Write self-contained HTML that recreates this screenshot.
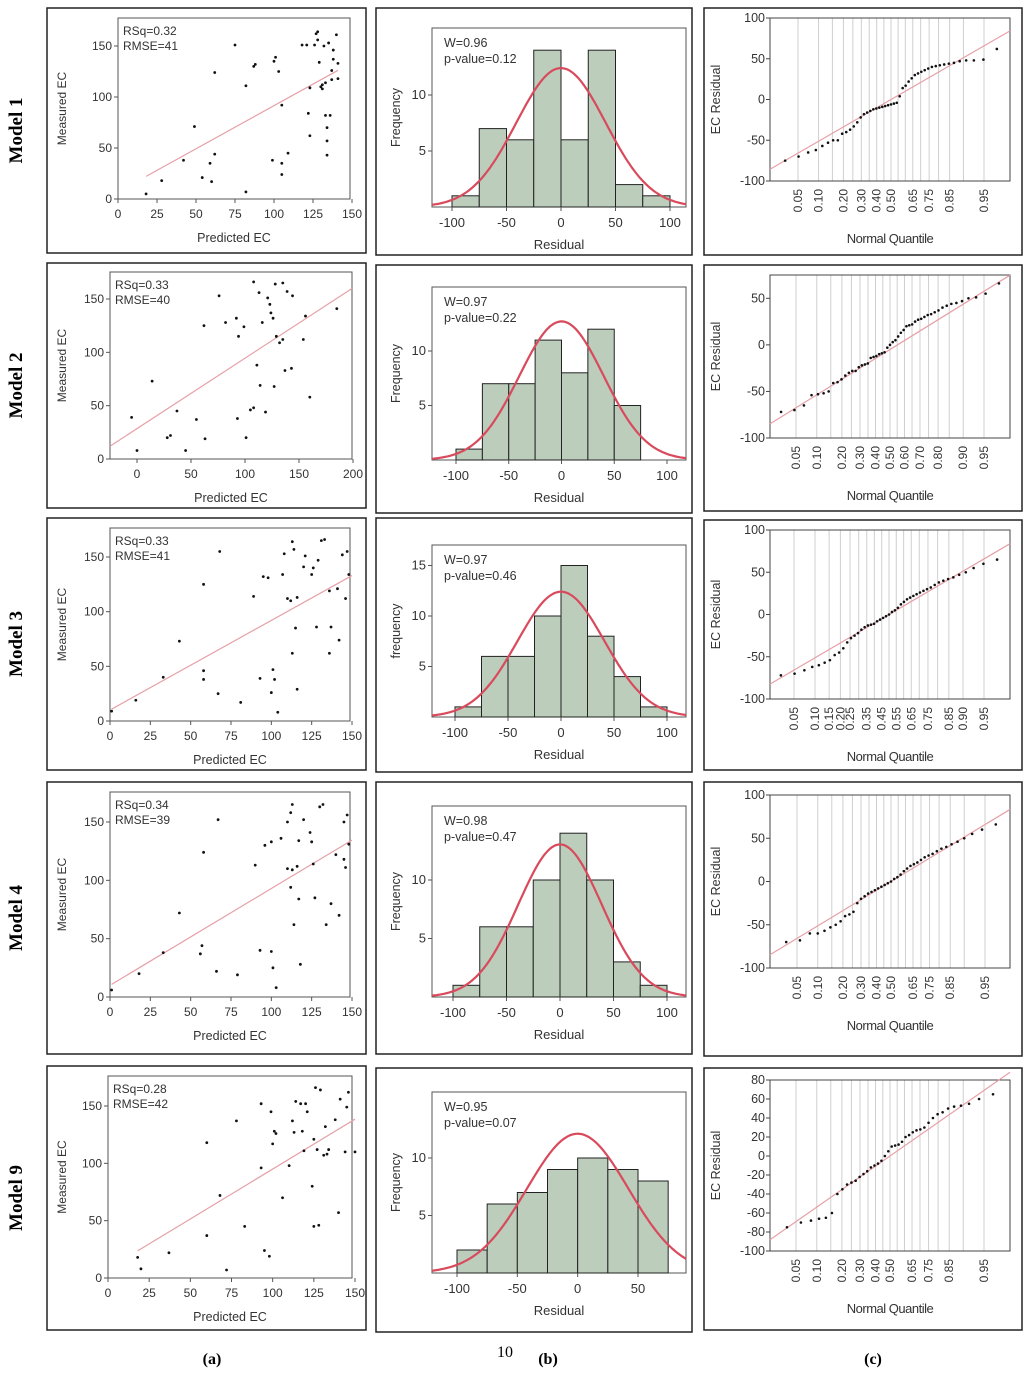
<!DOCTYPE html>
<html><head><meta charset="utf-8"><style>
html,body{margin:0;padding:0;background:#fff;}
</style></head><body>
<svg id="fig" width="1024" height="1371" viewBox="0 0 1024 1371" xmlns="http://www.w3.org/2000/svg"></svg>
<script>
// ---------- DATA ----------
const modelNames = ["Model 1","Model 2","Model 3","Model 4","Model 9"];
const statsA = [["RSq=0.32","RMSE=41"],["RSq=0.33","RMSE=40"],["RSq=0.33","RMSE=41"],["RSq=0.34","RMSE=39"],["RSq=0.28","RMSE=42"]];
const statsB = [["W=0.96","p-value=0.12"],["W=0.97","p-value=0.22"],["W=0.97","p-value=0.46"],["W=0.98","p-value=0.47"],["W=0.95","p-value=0.07"]];
const predicted1 = [18,28,42,49,54,59,60,62,62,75,82,82,87,88,99,100,101,103,105,105,105,109,118,121,122,123,123,126,127,128,128,129,130,131,131,132,133,133,134,134,134,135,136,137,137,138,138,140,141,141];
const measured1  = [5,18,38,71,21,35,17,44,124,151,111,7,130,132,38,135,139,125,35,24,92,45,151,151,84,62,109,151,162,164,156,134,110,108,112,150,114,82,70,57,43,153,82,117,126,146,137,161,133,118];
const predicted2 = [-5,0,14,28,31,37,45,55,63,62,76,82,93,92,94,99,105,101,108,108,111,113,114,116,119,121,123,124,126,127,128,129,132,135,135,139,137,143,144,154,156,160,185];
const measured2  = [39,8,73,20,22,45,8,37,19,125,153,128,38,132,115,124,46,20,166,48,88,156,69,128,44,151,145,137,132,68,164,115,109,112,165,157,83,85,153,112,134,58,141];
const predicted3 = [1,16,33,43,58,58,58,67,68,81,89,93,95,98,101,100,102,104,107,108,110,112,113,114,113,115,116,116,120,121,125,126,128,129,131,133,136,137,141,142,144,146,147,148,136];
const measured3  = [9,19,40,73,46,38,125,25,155,17,114,39,132,131,47,26,38,8,134,153,112,110,164,157,62,85,113,29,141,151,134,140,86,147,165,166,62,86,121,74,152,112,155,134,119];
const predicted4 = [1,18,33,43,57,56,58,66,67,79,90,93,96,100,101,103,100,106,110,112,112,113,110,113,114,116,117,118,117,120,124,125,126,127,130,132,134,137,140,142,145,146,147,148,145];
const measured4  = [6,20,38,72,44,37,124,22,152,19,113,40,130,133,25,8,39,136,150,94,158,165,110,109,62,112,84,28,134,152,141,133,114,85,163,165,62,80,122,70,150,111,156,131,118];
const predicted5 = [18,20,37,60,60,68,72,78,83,93,93,95,98,99,100,101,102,106,110,112,113,114,117,118,119,120,121,124,125,125,126,127,128,129,131,132,133,134,138,140,141,144,146,150,145];
const measured5  = [18,8,22,37,118,72,7,137,45,96,152,24,19,145,117,128,126,70,98,137,127,154,152,128,111,152,145,80,45,121,166,112,46,164,107,132,108,112,138,57,156,110,162,110,149];
const fitIntercept = [7,28.5,10,10,8];
const fitSlope = [0.845,0.66,0.82,0.83,0.87];
const histCounts1 = [1,7,6,14,6,14,2,1];
const histCounts2 = [1,7,7,11,8,12,5];
const histCounts3 = [1,6,6,10,15,8,4,1];
const histCounts4 = [1,6,6,10,14,10,3,1];
const histCounts5 = [2,6,7,9,10,9,8];
const histStart = -100, histWidth = 25;
const normMean = [0,0,0,0,0];
const normSd = [41,40,41,39,42];
const normN = [51,51,51,51,51];
const resid1 = [-75,-70,-65,-62,-57,-53,-50,-50,-42,-40,-37,-33,-28,-22,-18,-16,-14,-12,-11,-10,-9,-8,-7,-6,-5,-4,4,14,17,22,26,30,32,34,36,38,40,41,42,43,44,45,47,48,48,49,62];
const resid2 = [-72,-70,-65,-54,-53,-52,-50,-41,-40,-37,-33,-30,-28,-28,-24,-22,-21,-20,-14,-13,-12,-10,-9,-8,-3,0,3,5,9,13,16,20,21,22,25,27,28,30,32,33,35,37,40,42,44,45,47,50,51,55,66];
const resid3 = [-72,-70,-66,-62,-60,-57,-54,-48,-45,-40,-33,-28,-25,-22,-18,-15,-13,-12,-11,-8,-6,-4,-2,0,3,5,8,12,15,18,20,22,24,26,28,30,32,35,38,40,42,44,47,50,55,60,65];
const resid4 = [-70,-68,-60,-60,-57,-53,-50,-46,-40,-38,-35,-25,-20,-17,-14,-12,-10,-8,-6,-4,-2,0,3,5,8,12,15,18,20,22,25,28,30,32,35,38,40,43,46,50,55,60,66];
const resid5 = [-75,-70,-68,-66,-65,-60,-40,-35,-30,-28,-26,-22,-19,-16,-12,-10,-8,-5,0,5,10,11,12,15,20,22,25,27,28,30,35,40,44,46,50,52,53,55,60,65];
const qqIntercept = [0,-5,0,0,0];
const qqSlope = [40,38,40,40,42];
const qqLabels1 = ["0.05","0.10","0.20","0.30","0.40","0.50","0.65","0.75","0.85","0.95"];
const qqLabels2 = ["0.05","0.10","0.20","0.30","0.40","0.50","0.60","0.70","0.80","0.90","0.95"];
const qqLabels3 = ["0.05","0.10","0.15","0.20","0.25","0.35","0.45","0.55","0.65","0.75","0.85","0.90","0.95"];
const qqLabels4 = ["0.05","0.10","0.20","0.30","0.40","0.50","0.65","0.75","0.85","0.95"];
const qqLabels5 = ["0.05","0.10","0.20","0.30","0.40","0.50","0.65","0.75","0.85","0.95"];
const qqGrid = [0.05,0.10,0.15,0.20,0.25,0.30,0.35,0.40,0.45,0.50,0.55,0.60,0.65,0.70,0.75,0.80,0.85,0.90,0.95];
const scatterXTicks = [[0,25,50,75,100,125,150],[0,50,100,150,200],[0,25,50,75,100,125,150],[0,25,50,75,100,125,150],[0,25,50,75,100,125,150]];
const scatterYTicks = [0,50,100,150];
const histXTicks = [[-100,-50,0,50,100],[-100,-50,0,50,100],[-100,-50,0,50,100],[-100,-50,0,50,100],[-100,-50,0,50]];
const histYTicks = [[5,10],[5,10],[5,10,15],[5,10],[5,10]];
const qqYTicks = [[-100,-50,0,50,100],[-100,-50,0,50],[-100,-50,0,50,100],[-100,-50,0,50,100],[-100,-80,-60,-40,-20,0,20,40,60,80]];

const predicted=[predicted1,predicted2,predicted3,predicted4,predicted5];
const measured=[measured1,measured2,measured3,measured4,measured5];
const histCounts=[histCounts1,histCounts2,histCounts3,histCounts4,histCounts5];
const resid=[resid1,resid2,resid3,resid4,resid5];
const qqLabels=[qqLabels1,qqLabels2,qqLabels3,qqLabels4,qqLabels5];

// ---------- LAYOUT ----------
const rowsA=[[8,253],[263,508],[518,770],[782,1054],[1066,1330]];
const rowsB=[[8,255],[265,513],[518,772],[782,1054],[1068,1332]];
const rowsC=[[8,255],[265,511],[520,770],[782,1056],[1068,1330]];
const sc=[
 {l:118,r:350,t:18,b:199,x0:118,x1:352,xv0:0,xv1:150,y0:199,y150:46},
 {l:110,r:352,t:272,b:459,x0:137,x1:353,xv0:0,xv1:200,y0:459,y150:299},
 {l:110,r:350,t:528,b:721,x0:110,x1:352,xv0:0,xv1:150,y0:721,y150:557},
 {l:110,r:350,t:792,b:997,x0:110,x1:352,xv0:0,xv1:150,y0:997,y150:822},
 {l:108,r:352,t:1076,b:1278,x0:108,x1:355,xv0:0,xv1:150,y0:1278,y150:1106}];
const hl=[
 {l:432,r:686,t:28,b:207,xm:452,xp:670,vm:-100,vp:100,y0:207,yv:10,yp:95},
 {l:432,r:686,t:287,b:460,xm:456,xp:667,vm:-100,vp:100,y0:460,yv:10,yp:351},
 {l:432,r:686,t:545,b:717,xm:455,xp:667,vm:-100,vp:100,y0:717,yv:10,yp:616},
 {l:432,r:686,t:806,b:997,xm:453,xp:667,vm:-100,vp:100,y0:997,yv:10,yp:880},
 {l:432,r:686,t:1092,b:1273,xm:457,xp:638,vm:-100,vp:50,y0:1273,yv:10,yp:1158}];
const ql=[
 {l:770,r:1010,t:18,b:181,vt:100,vb:-100,q05:798,q95:984},
 {l:770,r:1010,t:275,b:438,vt:75,vb:-100,q05:796,q95:984},
 {l:770,r:1010,t:530,b:699,vt:100,vb:-100,q05:794,q95:984},
 {l:770,r:1010,t:795,b:968,vt:100,vb:-100,q05:797,q95:985},
 {l:770,r:1010,t:1080,b:1251,vt:80,vb:-100,q05:796,q95:984}];

const NS="http://www.w3.org/2000/svg";
const svg=document.getElementById('fig');
function mk(tag,attrs,name,parent,inter){
  const e=document.createElementNS(NS,tag);
  for(const k in attrs)e.setAttribute(k,attrs[k]);
  
  
  (parent||svg).appendChild(e);return e;
}
function txt(x,y,s,name,opt,parent){
  const a=Object.assign({x:x,y:y,'font-size':12,fill:'#333','font-family':'Liberation Sans, sans-serif'},opt||{});
  const e=mk('text',a,name,parent);e.textContent=s;return e;
}
function qnorm(p){
 const a=[-39.6968302866538,220.946098424521,-275.928510446969,138.357751867269,-30.6647980661472,2.50662827745924];
 const b=[-54.4760987982241,161.585836858041,-155.698979859887,66.8013118877197,-13.2806815528857];
 const c=[-0.00778489400243029,-0.322396458041136,-2.40075827716184,-2.54973253934373,4.37466414146497,2.93816398269878];
 const d=[0.00778469570904146,0.32246712907004,2.445134137143,3.75440866190742];
 let q,r;
 if(p<0.02425){q=Math.sqrt(-2*Math.log(p));return (((((c[0]*q+c[1])*q+c[2])*q+c[3])*q+c[4])*q+c[5])/((((d[0]*q+d[1])*q+d[2])*q+d[3])*q+1);}
 if(p>1-0.02425){q=Math.sqrt(-2*Math.log(1-p));return -(((((c[0]*q+c[1])*q+c[2])*q+c[3])*q+c[4])*q+c[5])/((((d[0]*q+d[1])*q+d[2])*q+d[3])*q+1);}
 q=p-0.5;r=q*q;return (((((a[0]*r+a[1])*r+a[2])*r+a[3])*r+a[4])*r+a[5])*q/(((((b[0]*r+b[1])*r+b[2])*r+b[3])*r+b[4])*r+1);
}
const SERIF='Liberation Serif, serif';

for(let i=0;i<5;i++){
 const my=(rowsA[i][0]+rowsA[i][1])/2;
 txt(0,0,modelNames[i],'model-label',{'font-size':19,'font-weight':'bold','font-family':SERIF,fill:'#000','text-anchor':'middle',transform:`translate(22,${my}) rotate(-90)`});
 // ---- scatter
 const A=mk('g',{},'scatter-panel');
 mk('rect',{x:47,y:rowsA[i][0],width:319,height:rowsA[i][1]-rowsA[i][0],fill:'none',stroke:'#222','stroke-width':1.5},'panel-frame',A);
 const s=sc[i];
 const X=v=>s.x0+(v-s.xv0)*(s.x1-s.x0)/(s.xv1-s.xv0);
 const Y=v=>s.y0-v*(s.y0-s.y150)/150;
 mk('rect',{x:s.l,y:s.t,width:s.r-s.l,height:s.b-s.t,fill:'none',stroke:'#555','stroke-width':1},'plot-area',A);
 scatterXTicks[i].forEach(v=>{mk('line',{x1:X(v),x2:X(v),y1:s.b,y2:s.b+4,stroke:'#555'},'x-tick',A);txt(X(v),s.b+19,String(v),'x-tick-label',{'text-anchor':'middle'},A);});
 scatterYTicks.forEach(v=>{mk('line',{x1:s.l-4,x2:s.l,y1:Y(v),y2:Y(v),stroke:'#555'},'y-tick',A);txt(s.l-6,Y(v)+4,String(v),'y-tick-label',{'text-anchor':'end'},A);});
 txt((s.l+s.r)/2,s.b+43,'Predicted EC','x-axis-title',{'text-anchor':'middle','font-size':12.5},A);
 txt(0,0,'Measured EC','y-axis-title',{'text-anchor':'middle','font-size':12,transform:`translate(66,${(s.t+s.b)/2}) rotate(-90)`},A);
 const fx0=Math.max(s.xv0-(s.x0-s.l)*(s.xv1-s.xv0)/(s.x1-s.x0), Math.min(...predicted[i])), fx1=Math.max(...predicted[i]);
 const lx0=i==1?s.xv0-(s.x0-s.l)*(s.xv1-s.xv0)/(s.x1-s.x0):fx0, lx1=i==1?s.xv0+(s.r-s.x0)*(s.xv1-s.xv0)/(s.x1-s.x0):(i==0?fx1:s.xv1);
 mk('line',{x1:X(lx0),y1:Y(fitIntercept[i]+fitSlope[i]*lx0),x2:X(lx1),y2:Y(fitIntercept[i]+fitSlope[i]*lx1),stroke:'#e6a0a8','stroke-width':1.2},'fit-line',A);
 predicted[i].forEach((p,k)=>{mk('circle',{cx:X(p),cy:Y(measured[i][k]),r:1.4,fill:'#111'},'data-point',A);});
 txt(s.l+5,s.t+17,statsA[i][0],'rsq-label',{},A);txt(s.l+5,s.t+32,statsA[i][1],'rmse-label',{},A);

 // ---- histogram
 const B=mk('g',{},'histogram-panel');
 mk('rect',{x:376,y:rowsB[i][0],width:316,height:rowsB[i][1]-rowsB[i][0],fill:'none',stroke:'#222','stroke-width':1.5},'panel-frame',B);
 const h=hl[i];
 const HX=v=>h.xm+(v-h.vm)*(h.xp-h.xm)/(h.vp-h.vm);
 const HY=v=>h.y0-v*(h.y0-h.yp)/h.yv;
 mk('rect',{x:h.l,y:h.t,width:h.r-h.l,height:h.b-h.t,fill:'none',stroke:'#555'},'plot-area',B);
 histCounts[i].forEach((c,k)=>{const x0=HX(histStart+k*histWidth),x1=HX(histStart+(k+1)*histWidth);
   mk('rect',{x:x0,y:HY(c),width:x1-x0,height:HY(0)-HY(c),fill:'#bccdbc',stroke:'#222','stroke-width':1},'histogram-bar',B);});
 let d='';
 for(let x=h.l;x<=h.r;x+=2){const v=h.vm+(x-h.xm)*(h.vp-h.vm)/(h.xp-h.xm);
   const f=normN[i]*histWidth/(normSd[i]*Math.sqrt(2*Math.PI))*Math.exp(-0.5*Math.pow((v-normMean[i])/normSd[i],2));
   d+=(d?'L':'M')+x+','+HY(f).toFixed(1);}
 mk('path',{d:d,fill:'none',stroke:'#d84a5c','stroke-width':2.2},'normal-curve',B);
 histXTicks[i].forEach(v=>{mk('line',{x1:HX(v),x2:HX(v),y1:h.b,y2:h.b+4,stroke:'#555'},'x-tick',B);txt(HX(v),h.b+20,String(v),'x-tick-label',{'text-anchor':'middle','font-size':13},B);});
 histYTicks[i].forEach(v=>{mk('line',{x1:h.l-4,x2:h.l,y1:HY(v),y2:HY(v),stroke:'#555'},'y-tick',B);txt(h.l-6,HY(v)+4,String(v),'y-tick-label',{'text-anchor':'end','font-size':13},B);});
 txt((h.l+h.r)/2,h.b+42,'Residual','x-axis-title',{'text-anchor':'middle','font-size':13},B);
 txt(0,0,i==2?'frequency':'Frequency','y-axis-title',{'text-anchor':'middle','font-size':12.5,transform:`translate(400,${(h.t+h.b)/2}) rotate(-90)`},B);
 txt(h.l+12,h.t+19,statsB[i][0],'w-label',{'font-size':12.5},B);txt(h.l+12,h.t+35,statsB[i][1],'p-value-label',{'font-size':12.5},B);

 // ---- QQ plot
 const C=mk('g',{},'qq-panel');
 mk('rect',{x:704,y:rowsC[i][0],width:318,height:rowsC[i][1]-rowsC[i][0],fill:'none',stroke:'#222','stroke-width':1.5},'panel-frame',C);
 const q=ql[i];
 const zs=(q.q95-q.q05)/(2*1.6449), zc=(q.q95+q.q05)/2;
 const QX=z=>zc+z*zs;
 const QY=v=>q.t+(q.vt-v)*(q.b-q.t)/(q.vt-q.vb);
 qqGrid.forEach(p=>{mk('line',{x1:QX(qnorm(p)),x2:QX(qnorm(p)),y1:q.t,y2:q.b,stroke:'#cfcfcf','stroke-width':1},'quantile-gridline',C);});
 mk('rect',{x:q.l,y:q.t,width:q.r-q.l,height:q.b-q.t,fill:'none',stroke:'#444'},'plot-area',C);
 const zl=(q.l-zc)/zs, zr=(q.r-zc)/zs;
 mk('line',{x1:q.l,y1:QY(qqIntercept[i]+qqSlope[i]*zl),x2:q.r,y2:QY(qqIntercept[i]+qqSlope[i]*zr),stroke:'#e6a0a8','stroke-width':1.2},'reference-line',C);
 const n=resid[i].length;
 resid[i].forEach((r,k)=>{mk('circle',{cx:QX(qnorm((k+1.5)/(n+2))),cy:QY(r),r:1.3,fill:'#111'},'qq-point',C);});
 qqYTicks[i].forEach(v=>{mk('line',{x1:q.l-4,x2:q.l,y1:QY(v),y2:QY(v),stroke:'#444'},'y-tick',C);txt(q.l-5,QY(v)+4,String(v),'y-tick-label',{'text-anchor':'end','font-size':12.5},C);});
 qqLabels[i].forEach(l=>{const x=QX(qnorm(parseFloat(l)));txt(0,0,l,'quantile-tick-label',{'text-anchor':'end','font-size':12,transform:`translate(${x+4},${q.b+8}) rotate(-90)`},C);});
 txt((q.l+q.r)/2,q.b+62,'Normal Quantile','x-axis-title',{'text-anchor':'middle','font-size':13,'letter-spacing':'-0.5'},C);
 txt(0,0,'EC Residual','y-axis-title',{'text-anchor':'middle','font-size':12.5,transform:`translate(720,${(q.t+q.b)/2}) rotate(-90)`},C);
}
txt(212,1364,'(a)','caption-a',{'font-size':16,'font-weight':'bold','font-family':SERIF,fill:'#000','text-anchor':'middle'});
txt(505,1357,'10','page-number',{'font-size':16,'font-family':SERIF,fill:'#000','text-anchor':'middle'});
txt(548,1364,'(b)','caption-b',{'font-size':16,'font-weight':'bold','font-family':SERIF,fill:'#000','text-anchor':'middle'});
txt(873,1364,'(c)','caption-c',{'font-size':16,'font-weight':'bold','font-family':SERIF,fill:'#000','text-anchor':'middle'});
</script>
</body></html>
